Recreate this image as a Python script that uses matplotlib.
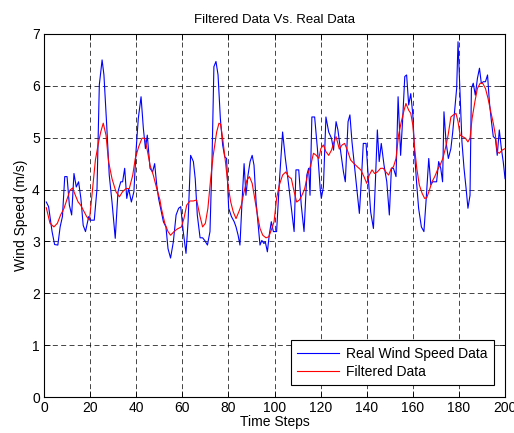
"""Filtered vs real wind speed data -> out.png (MATLAB-style line plot)."""
import matplotlib
matplotlib.use("Agg")
import matplotlib.pyplot as plt

real_t = [1, 2, 3.5, 4.6, 6, 7, 8, 9, 10, 11, 12, 13, 14, 15, 16, 17, 18, 19.4, 20.2, 21.8,
          23, 24, 25.2, 26, 27.2, 28.3, 29.5, 30.9, 32.1, 33.3, 34.1, 35, 35.9, 36.7, 37.9,
          39, 39.9, 40.9, 42.1, 43.1, 44, 44.8, 46, 47.1, 48, 48.9, 49.7, 50.6, 51.8, 52.9,
          53.8, 54.9, 56.1, 57.3, 58.4, 59.3, 60.4, 61.6, 62.5, 63.6, 64.8, 65.6, 66.5, 67.7,
          68.8, 69.7, 70.9, 72, 72.9, 73.7, 74.6, 75.5, 76.5, 77.5, 78.4, 79.2, 80.1, 81.3,
          82.5, 83.3, 84.2, 85, 85.9, 86.8, 87.6, 88.5, 89.4, 90.3, 91.1, 92, 92.8, 93.7,
          94.5, 95.4, 96, 96.9, 97.7, 98.6, 99.5, 100.9, 102.1, 103.5, 104.7, 105.8, 107,
          108.5, 109.3, 110.5, 111.6, 112.8, 114, 114.8, 115.4, 116.2, 117.4, 118.6, 119.8,
          120.3, 121.2, 122.3, 123.5, 124.7, 125.6, 126.7, 127.5, 128.7, 129.9, 130.7, 131.9,
          132.7, 133.6, 134.8, 135.9, 136.8, 137.7, 138.5, 139.7, 140.6, 141.7, 142.9, 143.7,
          144.6, 145.4, 146.3, 147.5, 148.7, 149.8, 150.7, 151.6, 152.7, 153.6, 154.7, 155.6,
          156.5, 157.3, 158.2, 159.1, 160, 160.8, 161.7, 162.5, 163.7, 164.8, 165.7, 166.9,
          167.8, 168.6, 169.5, 170.3, 171.2, 172.1, 172.9, 173.5, 174.4, 175.4, 176.5, 177.3,
          178.1, 179, 179.6, 180.5, 181.3, 182.2, 183.1, 183.9, 184.8, 185.4, 186.2, 187.1,
          188, 188.9, 189.7, 190.6, 191.5, 192.4, 193.2, 194.1, 194.9, 195.8, 196.6, 197.5,
          198.4, 199.2, 200]
real_v = [3.76, 3.67, 3.19, 2.94, 2.93, 3.28, 3.48, 4.25, 4.25, 3.70, 3.51, 4.31, 4.05, 4.15,
          3.83, 3.31, 3.19, 3.48, 3.41, 3.41, 4.02, 6.02, 6.50, 6.21, 5.24, 4.28, 3.76, 3.06,
          3.96, 4.15, 4.15, 4.41, 3.83, 4.02, 3.76, 3.96, 4.73, 5.37, 5.79, 5.18, 4.79, 5.05,
          4.41, 4.34, 4.50, 4.09, 3.83, 3.64, 3.38, 3.28, 2.86, 2.68, 2.99, 3.51, 3.64, 3.67,
          3.19, 2.77, 3.38, 4.66, 4.54, 4.21, 3.51, 3.07, 3.07, 3.02, 2.93, 3.19, 4.60, 6.37,
          6.47, 6.21, 5.37, 4.86, 4.63, 4.60, 3.64, 3.48, 3.38, 3.28, 3.12, 2.93, 3.76, 4.50,
          3.89, 4.28, 4.54, 4.66, 4.47, 3.76, 3.38, 2.93, 3.02, 2.96, 2.99, 2.80, 3.12, 3.38,
          3.19, 3.19, 4.15, 5.11, 4.60, 4.21, 3.76, 3.19, 4.38, 4.38, 3.70, 3.19, 4.28, 4.41,
          3.89, 5.40, 5.40, 4.79, 4.02, 3.83, 4.05, 5.40, 5.11, 4.99, 4.76, 5.31, 5.15, 4.73,
          4.34, 4.15, 5.31, 5.44, 4.92, 4.41, 3.96, 3.54, 4.21, 4.89, 4.89, 4.28, 3.57, 3.25,
          4.09, 5.15, 4.54, 4.89, 4.47, 4.15, 3.51, 4.41, 4.41, 4.25, 5.79, 4.66, 5.37, 6.18,
          6.21, 5.63, 5.85, 5.44, 4.66, 4.09, 3.64, 3.28, 3.19, 3.76, 4.60, 4.09, 4.15, 4.15,
          4.15, 4.54, 4.41, 4.15, 5.50, 4.92, 4.60, 4.79, 5.11, 5.50, 5.95, 6.85, 5.82, 4.92,
          4.41, 4.02, 3.64, 3.89, 5.95, 6.05, 5.82, 6.14, 6.34, 6.05, 6.08, 6.08, 6.21, 5.69,
          5.31, 5.02, 4.99, 4.66, 5.15, 4.79, 4.54, 4.21]

# filtered signal
filt_t = [1, 2.6, 4.3, 5.8, 7.2, 8.7, 10.1, 11.3, 12.4, 13.6, 14.8, 15.9, 17.1, 18.5, 19.7,
          20.8, 22.3, 23.7, 24.6, 25.7, 26.9, 28, 29.5, 31.2, 32.7, 34.1, 35.6, 37, 38.5,
          39.6, 41.1, 42.5, 43.7, 44.8, 46, 47.4, 48.9, 50.3, 50.9, 52.4, 53.8, 54.9, 56.4,
          57.8, 59.6, 60.7, 61.9, 63.3, 64.8, 66.2, 67.7, 68.8, 70, 71.1, 72.3, 73.4, 74.9,
          75.9, 76.6, 77.5, 78.7, 79.8, 81, 82.1, 83.3, 84.5, 85.6, 86.8, 88, 89.1, 90.3,
          91.4, 92.6, 93.7, 94.9, 96.3, 97.5, 98.6, 99.8, 100.9, 102.1, 103.5, 104.9, 106.1,
          107.3, 108.5, 109.6, 110.8, 111.9, 113.1, 114.3, 115.7, 116.9, 118.1, 119.2, 120.1,
          121.2, 122.3, 123.5, 124.7, 125.8, 126.7, 128.1, 129.3, 130.4, 131.6, 133, 134.5,
          135.9, 137.4, 138.8, 140, 141.1, 142.3, 143.4, 144.6, 146, 147.2, 148.3, 149.5,
          150.7, 151.6, 152.7, 153.8, 155, 156.2, 157, 158.2, 159.1, 160, 160.8, 161.7,
          162.8, 164, 165.1, 166, 167.2, 168.3, 169.5, 170.7, 171.8, 173, 174.1, 175.3,
          176.5, 177.6, 178.7, 179.6, 180.5, 181.6, 182.8, 183.9, 184.8, 185.7, 186.9, 188,
          189.2, 190.3, 191.5, 192.6, 193.8, 194.9, 195.8, 196.6, 197.5, 198.7, 200]
filt_v = [3.65, 3.35, 3.28, 3.35, 3.51, 3.64, 3.83, 3.99, 4.03, 3.89, 3.76, 3.70, 3.60, 3.48,
          3.41, 3.89, 4.57, 4.92, 5.11, 5.28, 5.05, 4.54, 4.21, 3.96, 3.86, 3.96, 4.02, 4.02,
          4.28, 4.60, 4.83, 4.99, 4.99, 4.76, 4.47, 4.28, 4.02, 3.80, 3.64, 3.35, 3.19, 3.12,
          3.19, 3.24, 3.28, 3.44, 3.70, 3.78, 3.78, 3.80, 3.48, 3.28, 3.35, 3.64, 4.21, 4.66,
          5.11, 5.28, 5.26, 4.99, 4.54, 4.09, 3.76, 3.57, 3.44, 3.57, 3.70, 3.96, 4.18, 4.25,
          4.12, 3.83, 3.51, 3.25, 3.12, 3.07, 3.09, 3.22, 3.38, 3.83, 4.09, 4.28, 4.34, 4.25,
          4.21, 3.96, 3.76, 3.80, 3.89, 4.02, 4.28, 4.47, 4.70, 4.66, 4.60, 4.79, 4.86, 4.73,
          4.66, 4.76, 4.92, 5.02, 4.78, 4.86, 4.89, 4.76, 4.57, 4.50, 4.44, 4.38, 4.25, 4.12,
          4.28, 4.38, 4.31, 4.34, 4.41, 4.41, 4.34, 4.28, 4.41, 4.44, 4.60, 5.05, 5.31, 5.53,
          5.66, 5.53, 5.47, 5.24, 4.79, 4.41, 4.09, 3.93, 3.83, 3.84, 3.99, 4.15, 4.25, 4.38,
          4.47, 4.60, 4.79, 5.05, 5.40, 5.44, 5.47, 5.31, 5.05, 5.02, 4.99, 4.92, 4.99, 5.37,
          5.69, 5.95, 6.05, 6.05, 5.95, 5.76, 5.50, 5.28, 5.05, 4.73, 4.70, 4.76, 4.79]

x_ticks = list(range(0, 201, 20))
y_ticks = list(range(0, 8))

plt.rcParams["font.family"] = ["Liberation Sans", "DejaVu Sans"]
plt.rcParams["font.size"] = 10

fig = plt.figure(figsize=(5.14, 4.33), dpi=100)
ax = fig.add_axes([0.0856, 0.0831, 0.897, 0.8384])

ax.plot(real_t, real_v, color=(0, 0, 1), lw=0.8, label="Real Wind Speed Data")
ax.plot(filt_t, filt_v, color=(1, 0, 0), lw=0.8, label="Filtered Data")

ax.set_xlim(0, 200)
ax.set_ylim(0, 7)
ax.set_xticks(x_ticks)
ax.set_yticks(y_ticks)
ax.tick_params(direction="in", top=True, right=True, length=4, width=0.6, pad=3)
for s in ax.spines.values():
    s.set_linewidth(0.8)
ax.grid(True, color="black", lw=0.6, ls=(0, (6, 4)), alpha=0.85)

ax.set_title("Filtered Data Vs. Real Data", fontsize=9.5, pad=8)
ax.set_xlabel("Time Steps", labelpad=0)
ax.set_ylabel("Wind Speed (m/s)", labelpad=3)

leg = ax.legend(loc="lower right", bbox_to_anchor=(0.975, 0.033), handlelength=3,
                fancybox=False, framealpha=1, borderpad=0.45, labelspacing=0.3,
                handletextpad=0.5, borderaxespad=0)
leg.get_frame().set_edgecolor("black")
leg.get_frame().set_linewidth(0.8)

fig.savefig("out.png", dpi=100)
